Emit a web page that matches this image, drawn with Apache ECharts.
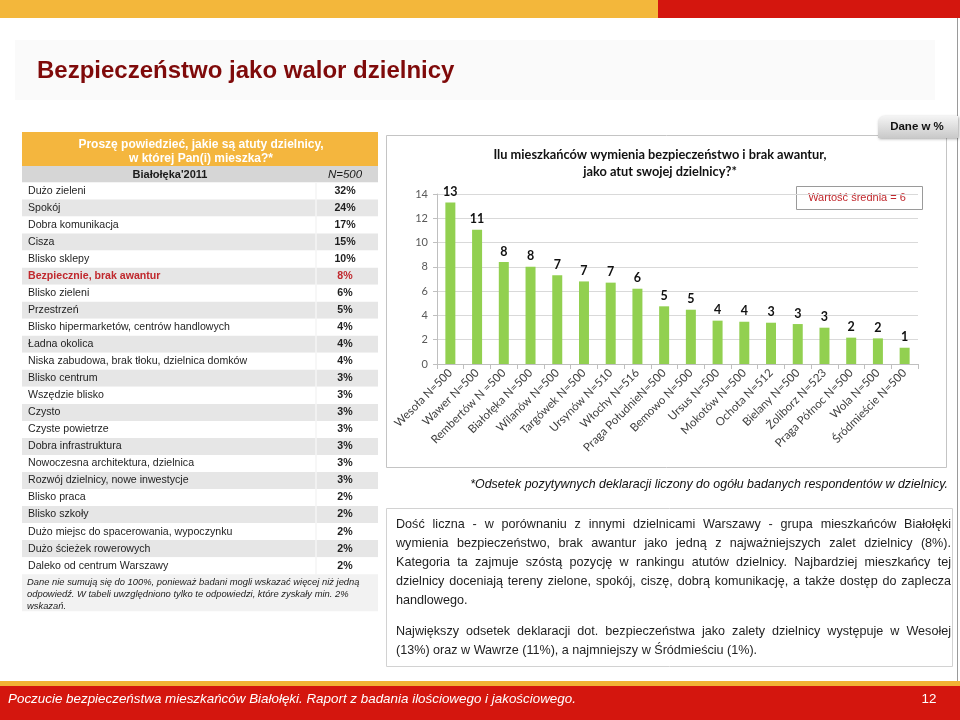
<!DOCTYPE html>
<html><head><meta charset="utf-8">
<script src="https://cdn.jsdelivr.net/npm/echarts@6/dist/echarts.min.js"></script>
<style>html,body{margin:0;padding:0;background:#fff}#c{width:960px;height:720px}</style>
</head><body><div id="c"></div>
<script>
// ---- data ----
const districts = ["Wesoła N=500","Wawer N=500","Rembertów N =500","Białołęka N=500","Wilanów N=500","Targówek N=500","Ursynów N=510","Włochy N=516","Praga PołudnieN=500","Bemowo N=500","Ursus N=500","Mokotów N=500","Ochota N=512","Bielany N=500","Żoliborz N=523","Praga Północ N=500","Wola N=500","Śródmieście N=500"];
const districtValues = [13.3, 11.05, 8.4, 8.0, 7.3, 6.8, 6.7, 6.2, 4.75, 4.47, 3.57, 3.48, 3.4, 3.29, 2.99, 2.17, 2.11, 1.34];
const districtLabels = [13, 11, 8, 8, 7, 7, 7, 6, 5, 5, 4, 4, 3, 3, 3, 2, 2, 1];
const yMin = 0, yMax = 14, yStep = 2;
const tableItems = ["Dużo zieleni","Spokój","Dobra komunikacja","Cisza","Blisko sklepy","Bezpiecznie, brak awantur","Blisko zieleni","Przestrzeń","Blisko hipermarketów, centrów handlowych","Ładna okolica","Niska zabudowa, brak tłoku, dzielnica domków","Blisko centrum","Wszędzie blisko","Czysto","Czyste powietrze","Dobra infrastruktura","Nowoczesna architektura, dzielnica","Rozwój dzielnicy, nowe inwestycje","Blisko praca","Blisko szkoły","Dużo miejsc do spacerowania, wypoczynku","Dużo ścieżek rowerowych","Daleko od centrum Warszawy"];
const tableValues = [32, 24, 17, 15, 10, 8, 6, 5, 4, 4, 4, 3, 3, 3, 3, 3, 3, 3, 2, 2, 2, 2, 2];
const highlightItem = "Bezpiecznie, brak awantur";
const meanValue = 6;

// ---- texts ----
const slideTitle = "Bezpieczeństwo jako walor dzielnicy";
const tableHeader = ["Proszę powiedzieć, jakie są atuty dzielnicy,", "w której Pan(i) mieszka?*"];
const tableSub = ["Białołęka'2011", "N=500"];
const tableNote = ["Dane nie sumują się do 100%, ponieważ badani mogli wskazać więcej niż jedną", "odpowiedź. W tabeli uwzględniono tylko te odpowiedzi, które zyskały min. 2%", "wskazań."];
const chartTitle = ["Ilu mieszkańców wymienia bezpieczeństwo i brak awantur,", "jako atut swojej dzielnicy?*"];
const chartNote = "*Odsetek pozytywnych deklaracji liczony do ogółu badanych respondentów w dzielnicy.";
const para1 = ["Dość liczna - w porównaniu z innymi dzielnicami Warszawy - grupa mieszkańców Białołęki","wymienia bezpieczeństwo, brak awantur jako jedną z najważniejszych zalet dzielnicy (8%).","Kategoria ta zajmuje szóstą pozycję w rankingu atutów dzielnicy. Najbardziej mieszkańcy tej","dzielnicy doceniają tereny zielone, spokój, ciszę, dobrą komunikację, a także dostęp do zaplecza","handlowego."];
const para2 = ["Największy odsetek deklaracji dot. bezpieczeństwa jako zalety dzielnicy występuje w Wesołej","(13%) oraz w Wawrze (11%), a najmniejszy w Śródmieściu (1%)."];
const footerText = "Poczucie bezpieczeństwa mieszkańców Białołęki. Raport z badania ilościowego i jakościowego.";
const pageNo = "12";

const ARIAL = '"Liberation Sans", Arial, sans-serif';
const CAL = 'Lato, "Open Sans", sans-serif';
const g = [];
function rect(x, y, w, h, fill, extra) { g.push(Object.assign({type:'rect', shape:{x, y, width:w, height:h}, style:{fill}}, extra||{})); }
function txt(text, x, y, font, fill, align, extra) { g.push(Object.assign({type:'text', style:{text, x, y, font, fill, textAlign:align||'left', textVerticalAlign:'middle'}}, extra||{})); }

// slide chrome
rect(0, 0, 658, 18, '#F3B73B');
rect(658, 0, 302, 18, '#D4160E');
rect(15, 40, 920, 60, '#fafafa');
g.push({type:'line', shape:{x1:957.5, y1:18, x2:957.5, y2:682}, style:{stroke:'#9a9a9a', lineWidth:1}});
txt(slideTitle, 37, 71, 'bold 24px ' + ARIAL, '#7F0A0A');

// table
const tx = 22, tw = 356, rowH = 17.03, row0 = 191, divX = 316, pctX = 345;
rect(tx, 132, tw, 34, '#F4B63E');
txt(tableHeader[0], 201, 145, 'bold 12px ' + ARIAL, '#ffffff', 'center');
txt(tableHeader[1], 201, 159, 'bold 12px ' + ARIAL, '#ffffff', 'center');
rect(tx, 166, tw, 16.5, '#D6D6D6');
txt(tableSub[0], 170, 174.5, 'bold 11px ' + ARIAL, '#1a1a1a', 'center');
txt(tableSub[1], pctX, 174.5, 'italic 11.5px ' + ARIAL, '#1a1a1a', 'center');
tableItems.forEach((name, i) => {
  const cy = row0 + i * rowH;
  rect(tx, cy - rowH / 2, tw, rowH, i % 2 ? '#E6E6E6' : '#ffffff');
  const hl = name === highlightItem;
  txt(name, 28, cy, (hl ? 'bold ' : '') + '10.6px ' + ARIAL, hl ? '#C0282D' : '#1e1e1e');
  txt(tableValues[i] + '%', pctX, cy, 'bold 10.6px ' + ARIAL, hl ? '#C0282D' : '#1e1e1e', 'center');
});
const tEnd = row0 + (tableItems.length - 0.5) * rowH;
g.push({type:'line', shape:{x1:divX, y1:row0 - rowH / 2, x2:divX, y2:tEnd}, style:{stroke:'#f4f4f4', lineWidth:1.5}});
rect(tx, tEnd, tw, 37, '#F2F2F2');
tableNote.forEach((l, i) => txt(l, 27, tEnd + 8 + i * 12.3, 'italic 9.4px ' + ARIAL, '#222'));

// chart panel
rect(386.5, 135.5, 560, 332, '#ffffff', {style:{fill:'#ffffff', stroke:'#c4c4c4', lineWidth:1}});
rect(878, 116, 80, 22, '#ddd', {shape:{x:878, y:116, width:80, height:22, r:[6,0,0,0]}, style:{fill:{type:'linear', x:0, y:0, x2:0, y2:1, colorStops:[{offset:0, color:'#f4f4f4'},{offset:1, color:'#c9c9c9'}]}, shadowBlur:3, shadowColor:'rgba(0,0,0,0.35)', shadowOffsetX:1, shadowOffsetY:1}});
txt('Dane w %', 917, 127, 'bold 11.5px ' + ARIAL, '#111', 'center');
txt(chartTitle[0], 660, 155, 'bold 12.8px ' + CAL, '#111', 'center');
txt(chartTitle[1], 660, 172, 'bold 12.8px ' + CAL, '#111', 'center');
rect(796.5, 186.5, 126, 23, '#fff', {style:{fill:'#ffffff', stroke:'#9a9a9a', lineWidth:1}});
txt('Wartość średnia = ' + meanValue, 857, 198, '11px ' + ARIAL, '#C0282D', 'center');
txt(chartNote, 948, 485, 'italic 12.4px ' + ARIAL, '#111', 'right');

// text box
rect(386.5, 508.5, 566, 158, '#fff', {style:{fill:'#ffffff', stroke:'#d2d2d2', lineWidth:1}});
const cnv = document.createElement('canvas').getContext('2d');
const pFont = '12.6px ' + ARIAL;
const pL = 396, pR = 951;
function para(lines, y0, lh) {
  lines.forEach((line, li) => {
    const y = y0 + li * lh;
    if (li === lines.length - 1) { txt(line, pL, y, pFont, '#1e1e1e'); return; }
    cnv.font = pFont;
    const words = line.split(' ');
    const ws = words.map(w => cnv.measureText(w).width);
    const gap = (pR - pL - ws.reduce((a, b) => a + b, 0)) / (words.length - 1);
    let x = pL;
    words.forEach((w, i) => { txt(w, x, y, pFont, '#1e1e1e'); x += ws[i] + gap; });
  });
}
para(para1, 525, 19);
para(para2, 632, 19);

// footer
rect(0, 681, 960, 5, '#F2B234');
rect(0, 686, 960, 34, '#D4160E');
txt(footerText, 8, 699, 'italic 13.4px "Liberation Sans Narrow", ' + ARIAL, '#ffffff');
txt(pageNo, 929, 699, '13.4px "Liberation Sans Narrow", ' + ARIAL, '#ffffff', 'center');

const chart = echarts.init(document.getElementById('c'), null, {renderer:'canvas'});
chart.setOption({
  animation: false,
  graphic: {elements: g},
  grid: {left: 437, right: 42, top: 194, bottom: 356, containLabel: false},
  xAxis: {
    type: 'category', data: districts,
    axisLine: {lineStyle: {color: '#bfbfbf'}},
    axisTick: {show: true, length: 5, lineStyle: {color: '#bfbfbf'}},
    axisLabel: {interval: 0, rotate: 45, margin: 7, fontFamily: CAL, fontSize: 11.5, color: '#404040'}
  },
  yAxis: {
    type: 'value', min: yMin, max: yMax, interval: yStep,
    axisLine: {show: true, lineStyle: {color: '#bfbfbf'}},
    axisTick: {show: true, length: 4, lineStyle: {color: '#bfbfbf'}},
    axisLabel: {fontFamily: CAL, fontSize: 11, color: '#595959', margin: 9},
    splitLine: {lineStyle: {color: '#d9d9d9'}}
  },
  series: [{
    type: 'bar', data: districtValues, barWidth: 10,
    itemStyle: {color: '#92D050'},
    label: {show: true, position: 'top', distance: 4, fontFamily: CAL, fontWeight: 'bold', fontSize: 12.5, color: '#111',
      formatter: p => districtLabels[p.dataIndex]}
  }]
});
</script></body></html>
